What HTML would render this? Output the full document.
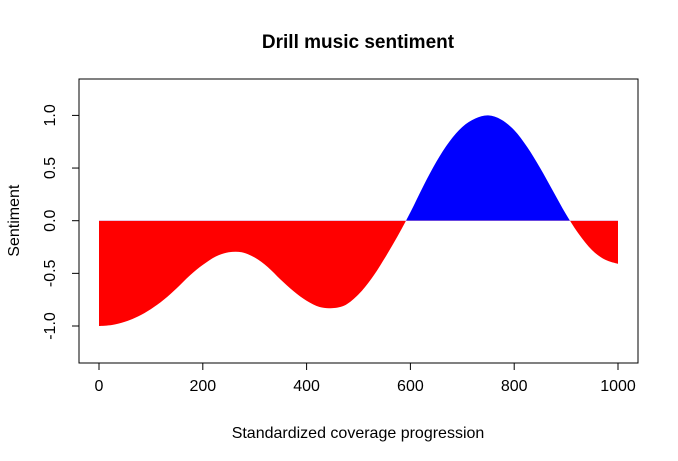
<!DOCTYPE html>
<html><head><meta charset="utf-8"><style>
body{margin:0;background:#fff}
svg{display:block;font-family:"Liberation Sans",Arial,sans-serif}
</style></head><body>
<svg id="chart" width="678" height="461" viewBox="0 0 678 461">
<defs>
<clipPath id="clipPos"><rect x="0" y="0" width="678" height="220.7"/></clipPath>
<clipPath id="clipNeg"><rect x="0" y="220.7" width="678" height="300"/></clipPath>
</defs>
<text x="358" y="48" text-anchor="middle" font-size="19" font-weight="bold">Drill music sentiment</text>
<text x="358" y="438" text-anchor="middle" font-size="16">Standardized coverage progression</text>
<text transform="translate(19,220.7) rotate(-90)" text-anchor="middle" font-size="16">Sentiment</text>
<g id="marks"></g>
<rect x="79" y="79" width="559" height="284" fill="none" stroke="#000" stroke-width="1"/>
<g id="axes"></g>
</svg>
<script>
const xPositions = [0,25,50,75,100,125,150,175,200,225,250,275,300,325,350,375,400,425,450,475,500,525,550,575,600,625,650,675,700,725,750,775,800,825,850,875,900,925,950,975,1000];
const sentiment = [-1.00,-0.99,-0.96,-0.91,-0.84,-0.75,-0.64,-0.52,-0.42,-0.34,-0.30,-0.30,-0.35,-0.44,-0.56,-0.67,-0.76,-0.82,-0.83,-0.80,-0.70,-0.55,-0.36,-0.15,0.08,0.33,0.56,0.75,0.89,0.97,1.00,0.96,0.86,0.70,0.50,0.28,0.06,-0.13,-0.28,-0.37,-0.41];
const xTicks = [0,200,400,600,800,1000];
const yTicks = [-1.0,-0.5,0.0,0.5,1.0];
const yTickLabels = ["-1.0","-0.5","0.0","0.5","1.0"];

const NS = "http://www.w3.org/2000/svg";
const sx = v => 99 + v * 0.519;
const sy = v => 220.7 - v * 105.3;

const marks = document.getElementById('marks');
const pts = xPositions.map((x,i)=>[sx(x), sy(sentiment[i])]);
let d = `M${pts[0][0]},${sy(0)} L${pts[0][0]},${pts[0][1]}`;
for (let i=0;i<pts.length-1;i++){
  const p0 = pts[Math.max(0,i-1)], p1 = pts[i], p2 = pts[i+1], p3 = pts[Math.min(pts.length-1,i+2)];
  const c1 = [p1[0]+(p2[0]-p0[0])/6, p1[1]+(p2[1]-p0[1])/6];
  const c2 = [p2[0]-(p3[0]-p1[0])/6, p2[1]-(p3[1]-p1[1])/6];
  d += ` C${c1[0]},${c1[1]} ${c2[0]},${c2[1]} ${p2[0]},${p2[1]}`;
}
d += ` L${pts[pts.length-1][0]},${sy(0)} Z`;
const pos = document.createElementNS(NS,'path');
pos.setAttribute('d', d); pos.setAttribute('fill', '#0000ff'); pos.setAttribute('clip-path','url(#clipPos)');


marks.appendChild(pos);
const neg = document.createElementNS(NS,'path');
neg.setAttribute('d', d); neg.setAttribute('fill', '#ff0000'); neg.setAttribute('clip-path','url(#clipNeg)');


marks.appendChild(neg);

const axes = document.getElementById('axes');
const xl = document.createElementNS(NS,'line');
xl.setAttribute('x1', sx(xTicks[0])); xl.setAttribute('x2', sx(xTicks[xTicks.length-1]));
xl.setAttribute('y1', 363); xl.setAttribute('y2', 363); xl.setAttribute('stroke','#000');


axes.appendChild(xl);
xTicks.forEach(t=>{
  const l = document.createElementNS(NS,'line');
  l.setAttribute('x1', sx(t)); l.setAttribute('x2', sx(t)); l.setAttribute('y1', 363); l.setAttribute('y2', 370); l.setAttribute('stroke','#000');
  
  
  axes.appendChild(l);
  const tx = document.createElementNS(NS,'text');
  tx.setAttribute('x', sx(t)); tx.setAttribute('y', 391); tx.setAttribute('text-anchor','middle'); tx.setAttribute('font-size','16');
  tx.textContent = String(t);
  
  
  axes.appendChild(tx);
});
const yl = document.createElementNS(NS,'line');
yl.setAttribute('x1', 79); yl.setAttribute('x2', 79);
yl.setAttribute('y1', sy(yTicks[0])); yl.setAttribute('y2', sy(yTicks[yTicks.length-1])); yl.setAttribute('stroke','#000');


axes.appendChild(yl);
yTicks.forEach((t,i)=>{
  const l = document.createElementNS(NS,'line');
  l.setAttribute('x1', 72); l.setAttribute('x2', 79); l.setAttribute('y1', sy(t)); l.setAttribute('y2', sy(t)); l.setAttribute('stroke','#000');
  
  
  axes.appendChild(l);
  const tx = document.createElementNS(NS,'text');
  tx.setAttribute('transform', `translate(55,${sy(t)}) rotate(-90)`); tx.setAttribute('text-anchor','middle'); tx.setAttribute('font-size','16');
  tx.textContent = yTickLabels[i];
  
  
  axes.appendChild(tx);
});
</script>
</body></html>
